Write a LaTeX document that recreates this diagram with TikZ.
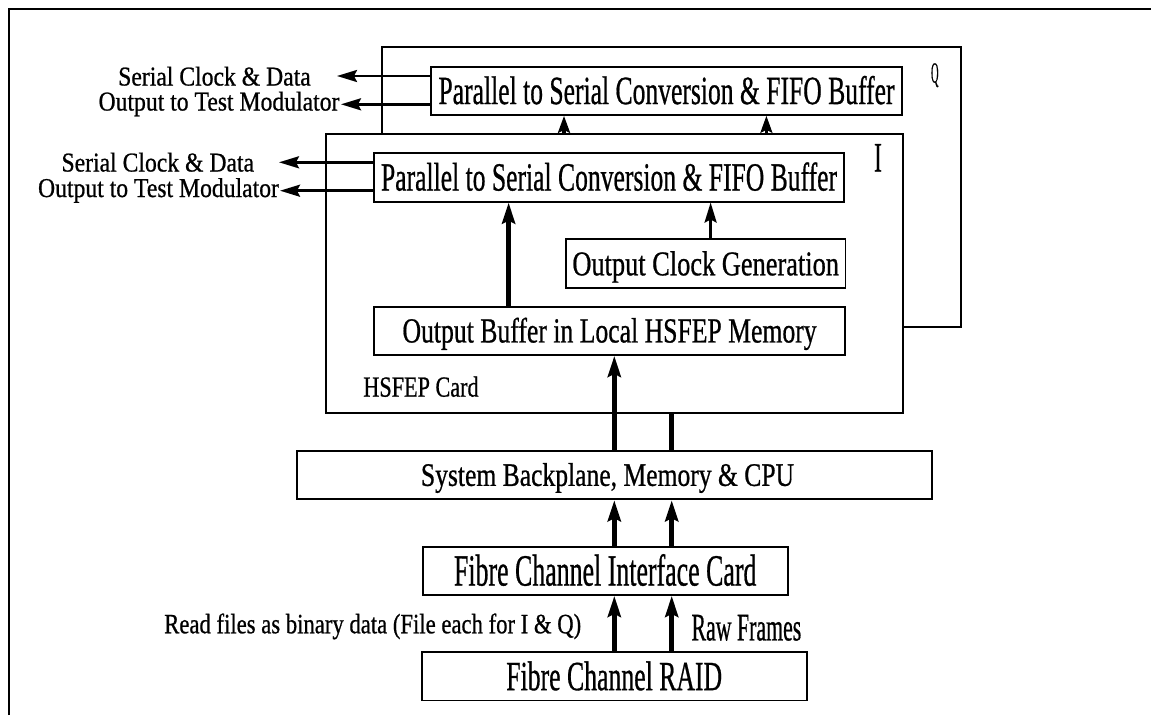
\documentclass[tikz,border=0pt]{standalone}
\usepackage{fontspec}
\setmainfont{Liberation Serif}[FakeBold=0.8]
\usepackage{graphicx}
\usetikzlibrary{arrows.meta}
\newcommand{\tx}[3]{\scalebox{#2}[1]{\fontsize{#1pt}{#1pt}\selectfont #3}}
\begin{document}
\begin{tikzpicture}[x=1pt,y=-1pt,
  blk/.style={draw, line width=1.8pt, fill=white, inner sep=0pt, text depth=0pt},
  lbl/.style={inner sep=0pt, text depth=0pt},
  thickarr/.style={line width=4.5pt, -{Stealth[length=21pt,width=13pt,inset=3pt]}},
  thinarr/.style={line width=2.5pt, -{Stealth[length=20pt,width=12pt,inset=3pt]}},
  shortarr/.style={-{Stealth[length=17pt,width=12pt,inset=3pt]}},
  thickln/.style={line width=4.5pt},
  frame/.style={line width=2.6pt}]
\useasboundingbox (0,0) rectangle (1151,715);
% outer frame
\coordinate (f1) at (9,715);
\coordinate (f2) at (9,9);
\coordinate (f3) at (1151,9);
\draw[frame] (f1) -- (f2) -- (f3);

% vertical guide coordinates
\coordinate (ca) at (614.3,0);
\coordinate (cb) at (671.7,0);
\coordinate (cc) at (508.6,0);
\coordinate (cd) at (710.6,0);
\coordinate (ce) at (564,0);
\coordinate (cf) at (766.4,0);

% Q card
\node[blk, fill=none, minimum width=578.7pt, minimum height=279.4pt] (qcard) at (671.3,187) {};
\node[blk, minimum width=471pt, minimum height=48.3pt, text height=26.5pt] (qps) at (666.5,90.8)
  {\tx{40}{0.64}{Parallel to Serial Conversion \& FIFO Buffer}};
\node[lbl, text height=19pt] (qlab) at (934.8,73) {\tx{29}{0.36}{Q}};
\node[lbl, text height=18pt] (qsc) at (214.5,76.5) {\tx{27.2}{0.87}{Serial Clock \& Data}};
\node[lbl, text height=18pt] (qot) at (219,101.5) {\tx{27.2}{0.87}{Output to Test Modulator}};
\coordinate (qa1) at (337,76);
\coordinate (qa2) at (341,104.3);
\draw[thinarr] (qps.west |- qa1) -- (qa1);
\draw[thinarr] (qps.west |- qa2) -- (qa2);

% I card (HSFEP)
\node[blk, minimum width=577pt, minimum height=279pt] (icard) at (614.5,273.5) {};
\node[blk, minimum width=470.7pt, minimum height=48.7pt, text height=26.5pt] (ips) at (609,177.3)
  {\tx{40}{0.64}{Parallel to Serial Conversion \& FIFO Buffer}};
\node[lbl, text height=28pt] (ilab) at (878,157.5) {\tx{42}{0.55}{I}};
\node[lbl, text height=18pt] (isc) at (157.8,162.5) {\tx{27.2}{0.87}{Serial Clock \& Data}};
\node[lbl, text height=18pt] (iot) at (158.5,188) {\tx{27.2}{0.87}{Output to Test Modulator}};
\coordinate (ia1) at (279,162.3);
\coordinate (ia2) at (280,190.7);
\draw[thinarr] (ips.west |- ia1) -- (ia1);
\draw[thinarr] (ips.west |- ia2) -- (ia2);

\node[blk, minimum width=279.4pt, minimum height=49pt, text height=23pt] (ocg) at (705.7,263.8)
  {\tx{34.7}{0.76}{Output Clock Generation}};
\node[blk, minimum width=471.5pt, minimum height=48.3pt, text height=23.3pt] (ob) at (609.6,330.8)
  {\tx{35.2}{0.73}{Output Buffer in Local HSFEP Memory}};
\node[lbl, text height=19.3pt] (hsfep) at (421,387) {\tx{29.2}{0.76}{HSFEP Card}};

% arrows inside I card and into Q card
\draw[thickarr] (ob.north -| cc) -- (ips.south -| cc);
\draw[thinarr] (ocg.north -| cd) -- (ips.south -| cd);
\draw[shortarr, line width=4.5pt] (icard.north -| ce) -- (qps.south -| ce);
\draw[shortarr, line width=2.5pt] (icard.north -| cf) -- (qps.south -| cf);

% lower blocks
\node[blk, minimum width=635pt, minimum height=48.6pt, text height=21.7pt] (bp) at (614.2,475)
  {\tx{32.8}{0.78}{System Backplane, Memory \& CPU}\hspace*{13.4pt}};
\node[blk, minimum width=365pt, minimum height=48.3pt, text height=29.5pt] (fcic) at (605.2,570.8)
  {\tx{44.6}{0.58}{Fibre Channel Interface Card}};
\node[blk, minimum width=385pt, minimum height=48.2pt, text height=27.5pt] (raid) at (614.2,676.4)
  {\tx{41.5}{0.62}{Fibre Channel RAID}};
\node[lbl, text height=18.5pt] (readf) at (372.7,624)
  {\tx{28}{0.81}{Read files as binary data (File each for I \& Q)}};
\node[lbl, text height=25.8pt] (rawf) at (746.4,627.5) {\tx{39}{0.56}{Raw Frames}};

\draw[thickarr] (raid.north -| ca) -- (fcic.south -| ca);
\draw[thickarr] (raid.north -| cb) -- (fcic.south -| cb);
\draw[thickarr] (fcic.north -| ca) -- (bp.south -| ca);
\draw[thickarr] (fcic.north -| cb) -- (bp.south -| cb);
\draw[thickarr] (bp.north -| ca) -- (ob.south -| ca);
\draw[thickln] (bp.north -| cb) -- (icard.south -| cb);
\end{tikzpicture}
\end{document}
